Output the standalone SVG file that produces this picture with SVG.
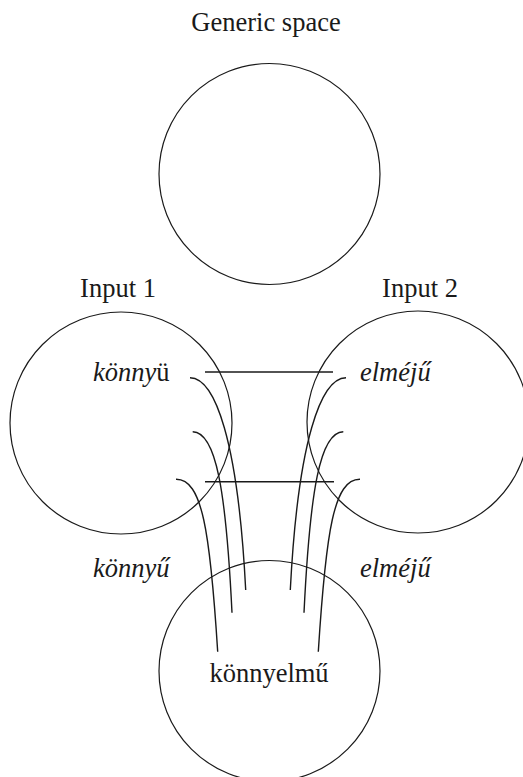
<svg xmlns="http://www.w3.org/2000/svg" width="523" height="777" viewBox="0 0 523 777" font-family="'Liberation Serif', Tinos, 'Times New Roman', 'DejaVu Serif', serif">
  <style>
    .space { fill: none; stroke: #1a1a1a; stroke-width: 1.2; }
    .link { fill: none; stroke: #1a1a1a; stroke-width: 1.4; }
    .lbl { font-family: "Liberation Serif", Tinos, "Times New Roman", "DejaVu Serif", serif; font-size: 26.5px; fill: #1a1a1a; }
    .it { font-style: italic; }
    .up { font-style: normal; }
    .mid { text-anchor: middle; }
  </style>
  <rect width="523" height="777" fill="#ffffff"/>

  <!-- generic space -->
  <g id="generic">
    <text class="lbl mid" x="266" y="31">Generic space</text>
    <circle class="space" cx="269.5" cy="174" r="110.5"/>
  </g>

  <!-- input space 1 -->
  <g id="input1">
    <text class="lbl mid" x="118" y="297">Input 1</text>
    <circle class="space" cx="121" cy="423" r="111"/>
    <text class="lbl it" x="93" y="381">könny<tspan class="up">ü</tspan></text>
  </g>

  <!-- input space 2 -->
  <g id="input2">
    <text class="lbl mid" x="420" y="297">Input 2</text>
    <circle class="space" cx="418" cy="422" r="111"/>
    <text class="lbl it" x="360" y="381">elméjű</text>
  </g>

  <!-- projected elements -->
  <g id="proj-left">
    <text class="lbl it" x="93" y="577">könnyű</text>
  </g>
  <g id="proj-right">
    <text class="lbl it" x="360" y="577">elméjű</text>
  </g>

  <!-- blended space -->
  <g id="blend">
    <circle class="space" cx="269.5" cy="671" r="110.5"/>
    <text class="lbl mid" x="269" y="682">könnyelmű</text>
  </g>

  <!-- cross-space mappings and projections -->
  <g id="connectors">
    <path class="link" d="M205,372 H333"/>
    <path class="link" d="M205,481.7 H334"/>
    <path class="link" d="M190,377.7 C215,378 238,440 245.7,590"/>
    <path class="link" d="M192.7,431.7 C216,432 226,490 232,612.7"/>
    <path class="link" d="M176,479.3 C202,479 210,530 217.7,651.7"/>
    <path class="link" d="M346,377.7 C321,378 298,440 290.3,590"/>
    <path class="link" d="M343.3,431.7 C320,432 310,490 304,612.7"/>
    <path class="link" d="M360,479.3 C334,479 326,530 318.3,651.7"/>
  </g>
</svg>
